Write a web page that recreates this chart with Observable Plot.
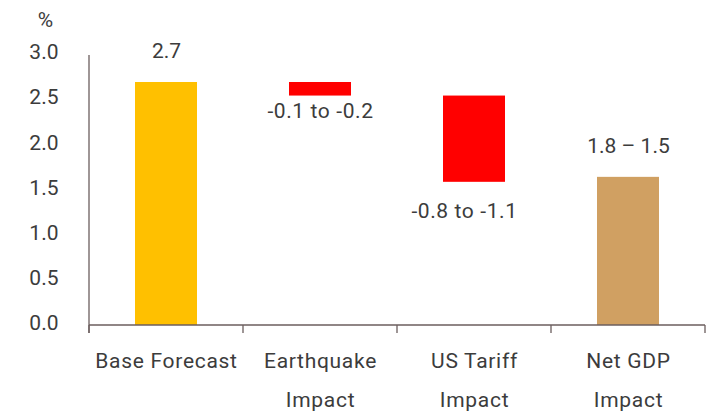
<!DOCTYPE html>
<html>
<head>
<meta charset="utf-8">
<script src="https://cdn.jsdelivr.net/npm/d3@7"></script>
<script src="https://cdn.jsdelivr.net/npm/@observablehq/plot@0.6"></script>
<style>
  html, body { margin: 0; padding: 0; background: #fff; }
  #chart { width: 723px; height: 412px; }
  .xlab text { letter-spacing: 0.7px; }
  .wide text { letter-spacing: 0.6px; }
</style>
</head>
<body>
<div id="chart"></div>
<script>
const categories = ["Base Forecast", "Earthquake\nImpact", "US Tariff\nImpact", "Net GDP\nImpact"];
const barStart = [0, 2.69, 2.54, 0];
const barEnd = [2.69, 2.54, 1.585, 1.64];
const valueLabels = ["2.7", "-0.1 to -0.2", "-0.8 to -1.1", "1.8 \u2013 1.5"];
const barColors = ["#FFC000", "#FF0000", "#FF0000", "#D0A062"];
const yTicks = [0, 0.5, 1, 1.5, 2, 2.5, 3];
const yUnit = "%";

const data = categories.map((c, i) => ({
  cat: c, y1: barStart[i], y2: barEnd[i], label: valueLabels[i], color: barColors[i],
  top: Math.max(barStart[i], barEnd[i]), bottom: Math.min(barStart[i], barEnd[i])
}));

const axisColor = "#6b5e5e";
const textColor = "#3c3c3c";
const fs = 21;

const chart = Plot.plot({
  width: 723,
  height: 412,
  marginTop: 54,
  marginBottom: 87,
  marginLeft: 88,
  marginRight: 18,
  style: { fontFamily: "Roboto", fontSize: fs + "px", color: textColor, background: "#fff" },
  x: { domain: categories, paddingInner: 0.6, paddingOuter: 0.3, label: null },
  y: { domain: [0, 3], label: null },
  marks: [
    Plot.barY(data, { x: "cat", y1: "y1", y2: "y2", fill: "color" }),
    Plot.axisY({ ticks: yTicks, tickFormat: d3.format(".1f"), tickSize: 0, tickPadding: 30, dy: -2, fontSize: fs, fill: textColor, label: null }),
    Plot.axisX({ tickSize: 0, tickPadding: 15, lineHeight: 1.86, fontSize: fs, fill: textColor, label: null, className: "xlab" }),
    Plot.text(data.filter(d => d.y1 === 0), { x: "cat", y: "top", text: "label", dy: -31, fontSize: fs, fill: textColor }),
    Plot.text(data.filter((d, i) => i === 1), { x: "cat", y: "bottom", text: "label", dy: 15, fontSize: fs, fill: textColor, className: "wide" }),
    Plot.text(data.filter((d, i) => i === 2), { x: "cat", y: "bottom", text: "label", dy: 29, dx: -10, fontSize: fs, fill: textColor, className: "wide" }),
    Plot.text([yUnit], { frameAnchor: "top-left", textAnchor: "middle", lineAnchor: "middle", text: d => d, dx: -43, dy: -34, fontSize: fs, fill: textColor })
  ]
});

// Category-boundary ticks and axis lines, placed with the plot's own scales
const sx = chart.scale("x"), sy = chart.scale("y");
const step = sx.step, bw = sx.bandwidth;
const bounds = categories.map(c => sx.apply(c) - (step - bw) / 2);
bounds.push(bounds[bounds.length - 1] + step);
const y0 = sy.apply(0), yTop = sy.apply(3);
const g = d3.select(chart).append("g").attr("stroke", axisColor).attr("stroke-width", 1.3).attr("fill", "none");
for (const b of bounds) {
  g.append("line").attr("x1", b).attr("x2", b).attr("y1", y0).attr("y2", y0 + 8);
}
g.append("line").attr("x1", bounds[0]).attr("x2", bounds[bounds.length - 1]).attr("y1", y0).attr("y2", y0);
g.append("line").attr("x1", bounds[0]).attr("x2", bounds[0]).attr("y1", yTop + 1).attr("y2", y0 + 8);

document.getElementById("chart").appendChild(chart);
</script>
</body>
</html>
